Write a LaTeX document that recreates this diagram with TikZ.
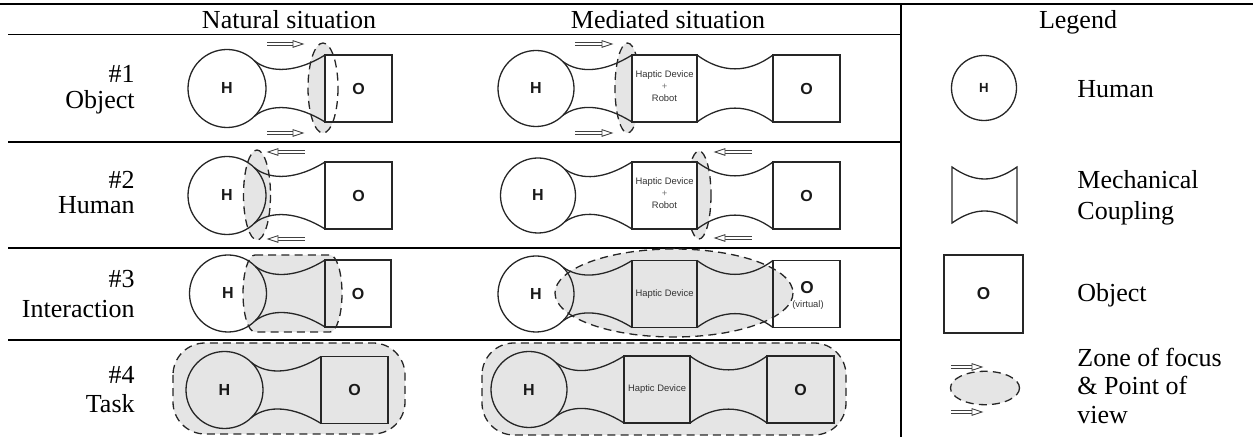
\documentclass[tikz,border=0pt]{standalone}
\usepackage{fontspec}
\setmainfont{Liberation Serif}
\newfontfamily\sansf{Liberation Sans}
\newfontfamily\sansbf{Liberation Sans Bold}
\usetikzlibrary{arrows.meta}
\tikzset{
 shp/.style={draw=black!85,line width=0.65pt},
 tbl/.style={draw=black,line width=0.6pt},
 zonefill/.style={fill=black!10},
 zonedash/.style={draw=black!85,line width=0.65pt,dash pattern=on 4pt off 2.6pt},
 arr/.style={draw=black!75,line width=0.45pt},
 lbl/.style={font=\fontsize{13}{15}\selectfont,inner sep=0pt},
 hl/.style={font=\sansbf\fontsize{8}{9}\selectfont,text=black!90,inner sep=0pt},
 hlsmall/.style={font=\sansbf\fontsize{6.6}{7}\selectfont,text=black!90,inner sep=0pt},
 olarge/.style={font=\sansbf\fontsize{8.6}{9}\selectfont,text=black!90,inner sep=0pt},
 dev/.style={font=\sansf\fontsize{4.7}{6}\selectfont,text=black!80,align=center,inner sep=0pt},
}
\newcommand\myarrR[3]{\begin{scope}[shift={(#1,#2)}]
 \draw[arr] (0,-1.3) -- ({#3-10},-1.3) (0,1.3) -- ({#3-10},1.3);
 \draw[arr,fill=white] ({#3-10},-3.3) -- (#3,0) -- ({#3-10},3.3) -- cycle;
\end{scope}}
\newcommand\myarrL[3]{\begin{scope}[shift={(#1,#2)}]
 \draw[arr] (10,-1.3) -- (#3,-1.3) (10,1.3) -- (#3,1.3);
 \draw[arr,fill=white] (10,-3.3) -- (0,0) -- (10,3.3) -- cycle;
\end{scope}}
% coupling circle -> box : cx cy r bx
\newcommand\cplCB[4]{%
 \draw[shp] ({#1+0.7071*#3},{#2-0.7071*#3}) .. controls ({#1+44},{#2-14.5}) and ({#4-27},{#2-16.5}) .. (#4,{#2-33.5});
 \draw[shp] ({#1+0.7071*#3},{#2+0.7071*#3}) .. controls ({#1+44},{#2+14.5}) and ({#4-27},{#2+16.5}) .. (#4,{#2+33.5});}
% coupling box -> box : x1 cy x2
\newcommand\cplBB[3]{%
 \draw[shp] (#1,{#2-33.5}) .. controls ({#1+25},{#2-15}) and ({#3-25},{#2-15}) .. (#3,{#2-33.5});
 \draw[shp] (#1,{#2+33.5}) .. controls ({#1+25},{#2+15}) and ({#3-25},{#2+15}) .. (#3,{#2+33.5});}
\begin{document}
\begin{tikzpicture}[x=0.5pt,y=-0.5pt]
\useasboundingbox (0,0) rectangle (1253,437);
% table
\draw[tbl] (0,4) -- (1253,4);
\draw[tbl] (8,34.5) -- (901,34.5);
\draw[tbl] (901,4) -- (901,437);
\draw[tbl] (8,142) -- (901,142);
\draw[tbl] (8,248) -- (901,248);
\draw[tbl] (8,340) -- (901,340);
\node[lbl,anchor=base] (hnat) at (289,28.5) {Natural situation};
\node[lbl,anchor=base] (hmed) at (668,28.5) {Mediated situation};
\node[lbl,anchor=base] (hleg) at (1078,28.5) {Legend};
% row labels
\node[lbl,anchor=base east] (r1a) at (135,83) {\#1};
\node[lbl,anchor=base east] (r1b) at (135,109) {Object};
\node[lbl,anchor=base east] (r2a) at (135,189) {\#2};
\node[lbl,anchor=base east] (r2b) at (135,214) {Human};
\node[lbl,anchor=base east] (r3a) at (135,288) {\#3};
\node[lbl,anchor=base east] (r3b) at (135,318) {Interaction};
\node[lbl,anchor=base east] (r4a) at (135,384) {\#4};
\node[lbl,anchor=base east] (r4b) at (135,413) {Task};

% ---------- Natural row 1
\fill[zonefill] (323,88) ellipse[x radius=15,y radius=45];
\draw[shp] (227,88.5) circle[radius=39];
\cplCB{227}{88.5}{39}{325}
\draw[shp,fill=white] (325,55) rectangle (392,122);
\draw[zonedash] (323,88) ellipse[x radius=15,y radius=45];
\node[hl] (n1h) at (227,88.5) {H};
\node[hl] (n1o) at (358.5,88.5) {O};
\myarrR{267}{44}{36}
\myarrR{267}{133}{36}

% ---------- Natural row 2
\draw[zonefill,zonedash] (257,195) ellipse[x radius=13.5,y radius=45];
\draw[shp] (227,195.5) circle[radius=39];
\cplCB{227}{195.5}{39}{325}
\draw[shp] (325,162) rectangle (392,229);
\node[hl] (n2h) at (227,195.5) {H};
\node[hl] (n2o) at (358.5,195.5) {O};
\myarrL{268}{152}{37}
\myarrL{268}{239}{37}

% ---------- Natural row 3
\draw[zonefill,zonedash] (255,255) -- (330,255) arc[start angle=-90,end angle=90,x radius=12,y radius=38.5] -- (255,332) arc[start angle=90,end angle=270,x radius=12,y radius=38.5] -- cycle;
\draw[shp] (228,293.5) circle[radius=38.5];
\cplCB{228}{293.5}{38.5}{325}
\draw[shp] (325,260) rectangle (391,327);
\node[hl] (n3h) at (228,293.5) {H};
\node[hl] (n3o) at (358,293.5) {O};

% ---------- Natural row 4
\draw[zonefill,zonedash,rounded corners=16pt] (173,343) rectangle (405,434);
\draw[shp] (224.5,390) circle[radius=38.5];
\cplCB{224.5}{390}{38.5}{321}
\draw[shp] (321,356.5) rectangle (388,423.5);
\node[hl] (n4h) at (224.5,390) {H};
\node[hl] (n4o) at (354.5,390) {O};

% ---------- Mediated row 1
\draw[zonefill,zonedash] (627.5,88) ellipse[x radius=12.5,y radius=45];
\draw[shp] (536,88.5) circle[radius=38];
\cplCB{536}{88.5}{38}{632}
\draw[shp,fill=white] (632,55) rectangle (697,122);
\cplBB{697}{88.5}{773}
\draw[shp] (773,55) rectangle (840,122);
\node[hl] (m1h) at (536,88.5) {H};
\node[dev] (m1d) at (664.5,86) {Haptic Device\\ {\color{black!55}+}\\ Robot};
\node[hl] (m1o) at (806.5,88.5) {O};
\myarrR{575}{44}{37}
\myarrR{575}{133}{37}

% ---------- Mediated row 2
\draw[zonefill,zonedash] (699,195) ellipse[x radius=12,y radius=44];
\draw[shp] (538,195.5) circle[radius=37.5];
\cplCB{538}{195.5}{37.5}{632}
\draw[shp,fill=white] (632,162) rectangle (697,229);
\cplBB{697}{195.5}{773}
\draw[shp] (773,162) rectangle (840,229);
\node[hl] (m2h) at (538,195.5) {H};
\node[dev] (m2d) at (664.5,193) {Haptic Device\\ {\color{black!55}+}\\ Robot};
\node[hl] (m2o) at (806.5,195.5) {O};
\myarrL{715}{152}{37}
\myarrL{715}{238}{37}

% ---------- Mediated row 3
\draw[zonefill,zonedash] (674,293) ellipse[x radius=119,y radius=44];
\draw[shp] (536,294) circle[radius=38];
\cplCB{536}{294}{38}{632}
\draw[shp] (632,260.5) rectangle (697,327.5);
\cplBB{697}{294}{773}
\draw[shp] (773,260.5) rectangle (840,327.5);
\node[hl] (m3h) at (536,294) {H};
\node[dev] (m3d) at (664.5,294) {Haptic Device};
\node[olarge] (m3o) at (807,288) {O};
\node[dev] (m3v) at (808,305) {(virtual)};

% ---------- Mediated row 4
\draw[zonefill,zonedash,rounded corners=16pt] (482,343) rectangle (846,435);
\draw[shp] (529,389.5) circle[radius=38];
\cplCB{529}{389.5}{38}{624}
\draw[shp] (624,356) rectangle (690,423);
\cplBB{690}{389.5}{767}
\draw[shp] (767,356) rectangle (834,423);
\node[hl] (m4h) at (529,389.5) {H};
\node[dev] (m4d) at (657,389.5) {Haptic Device};
\node[hl] (m4o) at (800.5,389.5) {O};

% ---------- Legend
\draw[shp] (984,88) circle[radius=32.5];
\node[hlsmall] (lh) at (984,88) {H};
\node[lbl,anchor=base west] (lhuman) at (1077,98) {Human};

\draw[shp] (952,167) .. controls (975,183) and (994,183) .. (1017,167) -- (1017,223) .. controls (994,207) and (975,207) .. (952,223) -- cycle;
\node[lbl,anchor=base west] (lmech) at (1077,189) {Mechanical};
\node[lbl,anchor=base west] (lcoup) at (1077,220) {Coupling};

\draw[shp] (944,255) rectangle (1023,333);
\node[olarge] (lo) at (983.5,294) {O};
\node[lbl,anchor=base west] (lobj) at (1077,302) {Object};

\draw[zonefill,zonedash] (985,388) ellipse[x radius=34.5,y radius=16.7];
\myarrR{951}{367}{31}
\myarrR{951}{412}{31}
\node[lbl,anchor=base west] (lz1) at (1077,367) {Zone of focus};
\node[lbl,anchor=base west] (lz2) at (1077,395) {\& Point of};
\node[lbl,anchor=base west] (lz3) at (1077,424) {view};
\end{tikzpicture}
\end{document}
